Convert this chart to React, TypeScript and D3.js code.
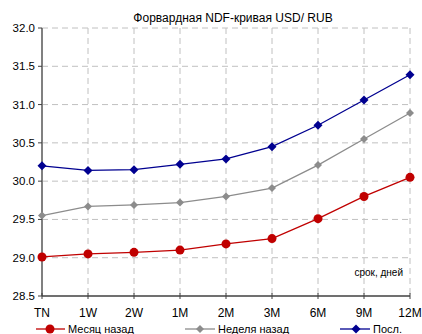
import React from "react";
import * as d3 from "d3";

const tenors = ["TN", "1W", "2W", "1M", "2M", "3M", "6M", "9M", "12M"];
const monthAgo = [29.01, 29.05, 29.07, 29.1, 29.18, 29.25, 29.51, 29.8, 30.05];
const weekAgo = [29.55, 29.67, 29.69, 29.72, 29.8, 29.91, 30.21, 30.55, 30.89];
const latest = [30.2, 30.14, 30.15, 30.22, 30.29, 30.45, 30.73, 31.06, 31.39];
const yTicks = [28.5, 29.0, 29.5, 30.0, 30.5, 31.0, 31.5, 32.0];

const W = 422;
const H = 334;
const left = 42;
const right = 410;
const top = 28;
const bottom = 296;
const font = "Liberation Sans, Arial, sans-serif";

export default function App() {
  const x = d3.scalePoint<string>().domain(tenors).range([left, right]);
  const y = d3.scaleLinear().domain([28.5, 32]).range([bottom, top]);
  const line = d3
    .line<number>()
    .x((_, i) => x(tenors[i]) as number)
    .y((v) => y(v));

  const diamond = (cx: number, cy: number, r: number) =>
    `M${cx},${cy - r}L${cx + r},${cy}L${cx},${cy + r}L${cx - r},${cy}Z`;

  const legendY = 329;

  return (
    <svg
      width={W}
      height={H}
      style={{ position: "absolute", left: 0, top: 0, background: "#fff" }}
      fontFamily={font}
    >
      <text x={233} y={21.5} fontSize={12} textAnchor="middle" fill="#000">
        Форвардная NDF-кривая USD/ RUB
      </text>

      {/* grid */}
      {yTicks.slice(1).map((t) => (
        <line
          key={"h" + t}
          x1={left}
          x2={right}
          y1={y(t)}
          y2={y(t)}
          stroke="#c0c0c0"
          strokeDasharray="6,4"
        />
      ))}
      {tenors.slice(1).map((t) => (
        <line
          key={"v" + t}
          x1={x(t)}
          x2={x(t)}
          y1={top}
          y2={bottom}
          stroke="#c0c0c0"
          strokeDasharray="6,4"
        />
      ))}

      {/* axes */}
      <line x1={left} x2={left} y1={top} y2={bottom} stroke="#808080" strokeWidth={2} />
      <line x1={left} x2={right} y1={bottom} y2={bottom} stroke="#404040" strokeWidth={1.5} />
      {yTicks.map((t) => (
        <g key={"yt" + t}>
          <line x1={left - 4} x2={left} y1={y(t)} y2={y(t)} stroke="#404040" />
          <text
            x={left - 7}
            y={y(t) + 4}
            fontSize={11.5}
            textAnchor="end"
            fill="#000"
          >
            {t.toFixed(1)}
          </text>
        </g>
      ))}
      {tenors.map((t) => (
        <g key={"xt" + t}>
          <line x1={x(t)} x2={x(t)} y1={bottom - 3} y2={bottom + 3} stroke="#404040" />
          <text x={x(t)} y={bottom + 21} fontSize={12} textAnchor="middle" fill="#000">
            {t}
          </text>
        </g>
      ))}
      <text x={403} y={276} fontSize={10} textAnchor="end" fill="#000">
        срок, дней
      </text>

      {/* series */}
      <path d={line(monthAgo) ?? ""} fill="none" stroke="#c00000" strokeWidth={1.3} />
      {monthAgo.map((v, i) => (
        <circle key={"m" + i} cx={x(tenors[i])} cy={y(v)} r={4.5} fill="#c00000" />
      ))}
      <path d={line(weekAgo) ?? ""} fill="none" stroke="#8c8c8c" strokeWidth={1.3} />
      {weekAgo.map((v, i) => (
        <path key={"w" + i} d={diamond(x(tenors[i]) as number, y(v), 4)} fill="#8c8c8c" />
      ))}
      <path d={line(latest) ?? ""} fill="none" stroke="#000090" strokeWidth={1.3} />
      {latest.map((v, i) => (
        <path key={"l" + i} d={diamond(x(tenors[i]) as number, y(v), 4.5)} fill="#000090" />
      ))}

      {/* legend */}
      <g>
        <line x1={36} x2={65} y1={legendY} y2={legendY} stroke="#c00000" strokeWidth={1.3} />
        <circle cx={50} cy={legendY} r={4.5} fill="#c00000" />
        <text x={68} y={legendY + 4} fontSize={11} fill="#000">
          Месяц назад
        </text>
        <line x1={185} x2={215} y1={legendY} y2={legendY} stroke="#8c8c8c" strokeWidth={1.3} />
        <path d={diamond(200, legendY, 4)} fill="#8c8c8c" />
        <text x={218} y={legendY + 4} fontSize={11} fill="#000">
          Неделя назад
        </text>
        <line x1={340} x2={370} y1={legendY} y2={legendY} stroke="#000090" strokeWidth={1.3} />
        <path d={diamond(356, legendY, 4.5)} fill="#000090" />
        <text x={373} y={legendY + 4} fontSize={11} fill="#000">
          Посл.
        </text>
      </g>
    </svg>
  );
}
